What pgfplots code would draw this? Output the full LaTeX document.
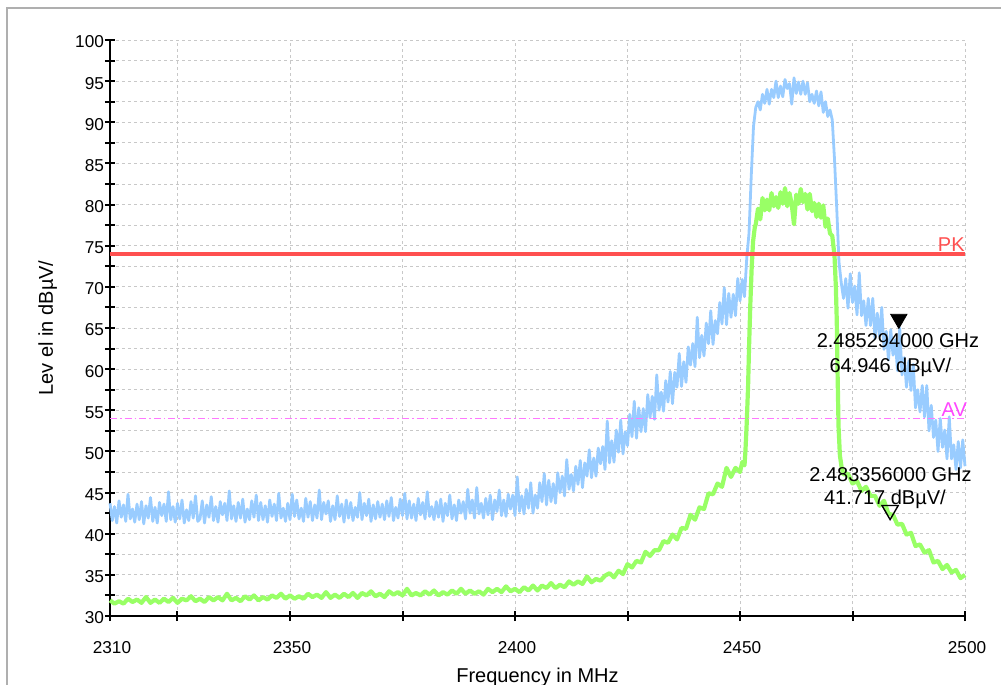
\documentclass[border=0pt]{standalone}
\usepackage{pgfplots}
\pgfplotsset{compat=1.18}
\usepackage{fontspec}
\setmainfont{Liberation Sans}
\definecolor{pkblue}{RGB}{153,204,255}
\definecolor{avgreen}{RGB}{153,255,102}
\definecolor{pkred}{RGB}{255,80,80}
\definecolor{avpink}{RGB}{255,120,255}
\definecolor{avtext}{RGB}{255,70,255}
\definecolor{gridgray}{RGB}{200,200,200}
\definecolor{framegray}{RGB}{175,175,175}
\begin{document}
\begin{tikzpicture}
\path[use as bounding box] (-55pt,-34.5pt) rectangle (445.5pt,308pt);
\draw[framegray, line width=1.2pt] (-51.5pt,-40pt) -- (-51.5pt,304pt) -- (450pt,304pt);
\begin{axis}[
  at={(0pt,0pt)}, anchor=south west,
  scale only axis, width=427.5pt, height=288pt,
  xmin=2310, xmax=2500, ymin=30, ymax=100,
  clip=false,
  axis x line*=bottom, axis y line*=left,
  axis line style={line width=1pt, black},
  xtick={2310,2350,2400,2450,2500},
  xticklabels={2310,2350,2400,2450,2500},
  minor xtick={2325,2375,2425,2475},
  ytick={30,35,...,100},
  minor ytick={32.5,37.5,...,97.5},
  tick align=center,
  major tick length=5pt, minor tick length=5pt,
  tick style={black, line width=1pt},
  grid=both,
  major grid style={gridgray, line width=0.5pt, dash pattern=on 1.5pt off 1.5pt},
  minor grid style={gridgray, line width=0.5pt, dash pattern=on 1.5pt off 1.5pt},
  scaled ticks=false,
  /pgf/number format/assume math mode=true,
  /pgf/number format/1000 sep={},
  tick label style={font=\fontsize{8.6}{10}\selectfont},
  xticklabel style={yshift=-6.5pt, xshift=1pt},
  yticklabel style={xshift=3pt, yshift=-1pt},
  xlabel={Frequency in MHz},
  ylabel={Lev el in dBµV/},
  label style={font=\fontsize{10}{12}\selectfont},
  xlabel style={at={(axis description cs:0.5,-0.1146)}, anchor=base},
  ylabel style={at={(axis description cs:-0.0667,0.5)}, anchor=base},
]
% Peak trace (blue)
\addplot[pkblue, line width=1.4pt, line join=round] coordinates {
(2310,43.7)(2310.5,41.6)(2311,43.3)(2311.5,41.3)(2312,44.0)(2312.5,42.0)(2313,43.5)(2313.5,41.5)(2314,44.8)(2314.5,41.8)
(2315,43.0)(2315.5,41.4)(2316,43.6)(2316.5,41.7)(2317,43.9)(2317.5,41.2)(2318,43.4)(2318.5,41.9)(2319,44.4)(2319.5,41.5)
(2320,43.2)(2320.5,41.3)(2321,43.8)(2321.5,42.2)(2322,43.6)(2322.5,41.5)(2323,45.1)(2323.5,41.7)(2324,43.3)(2324.5,41.4)
(2325,43.7)(2325.5,41.8)(2326,44.1)(2326.5,41.3)(2327,42.9)(2327.5,41.6)(2328,43.9)(2328.5,41.9)(2329,44.6)(2329.5,41.5)
(2330,41.8)(2330.5,44.0)(2331,41.3)(2331.5,43.5)(2332,42.0)(2332.5,44.5)(2333,41.6)(2333.5,43.3)(2334,41.4)(2334.5,43.9)
(2335,42.3)(2335.5,43.7)(2336,41.6)(2336.5,45.2)(2337,41.8)(2337.5,43.4)(2338,41.5)(2338.5,43.8)(2339,41.9)(2339.5,44.2)
(2340,41.4)(2340.5,43.0)(2341,41.7)(2341.5,44.0)(2342,42.0)(2342.5,44.7)(2343,41.6)(2343.5,43.8)(2344,41.7)(2344.5,43.4)
(2345,41.4)(2345.5,44.1)(2346,42.1)(2346.5,43.6)(2347,41.6)(2347.5,44.9)(2348,41.9)(2348.5,43.1)(2349,41.5)(2349.5,43.7)
(2350,41.7)(2350.5,44.8)(2351,42.1)(2351.5,44.1)(2352,41.8)(2352.5,43.1)(2353,41.5)(2353.5,44.3)(2354,42.0)(2354.5,43.9)
(2355,41.6)(2355.5,43.5)(2356,41.9)(2356.5,45.3)(2357,41.7)(2357.5,43.8)(2358,42.4)(2358.5,44.0)(2359,41.5)(2359.5,43.4)
(2360,41.7)(2360.5,44.6)(2361,42.1)(2361.5,43.6)(2362,41.4)(2362.5,44.1)(2363,41.9)(2363.5,43.8)(2364,41.6)(2364.5,43.2)
(2365,42.0)(2365.5,45.0)(2366,41.7)(2366.5,43.7)(2367,42.2)(2367.5,44.2)(2368,41.5)(2368.5,43.5)(2369,41.8)(2369.5,43.9)
(2370,42.0)(2370.5,43.6)(2371,41.7)(2371.5,44.0)(2372,42.1)(2372.5,44.4)(2373,41.6)(2373.5,43.2)(2374,41.9)(2374.5,44.2)
(2375,42.2)(2375.5,44.9)(2376,41.8)(2376.5,44.0)(2377,41.9)(2377.5,43.6)(2378,41.6)(2378.5,44.3)(2379,42.3)(2379.5,43.8)
(2380,41.8)(2380.5,45.1)(2381,42.1)(2381.5,43.3)(2382,41.7)(2382.5,43.9)(2383,42.0)(2383.5,44.2)(2384,41.5)(2384.5,43.7)
(2385,42.2)(2385.5,44.7)(2386,41.8)(2386.5,43.5)(2387,41.6)(2387.5,44.1)(2388,42.5)(2388.5,43.9)(2389,41.8)(2389.5,45.4)
(2390,42.5)(2390.5,44.1)(2391,41.9)(2391.5,45.6)(2392,42.4)(2392.5,43.7)(2393,41.9)(2393.5,44.3)(2394,42.3)(2394.5,44.7)
(2395,41.7)(2395.5,44.1)(2396,42.7)(2396.5,45.3)(2397,42.2)(2397.5,44.1)(2398,42.1)(2398.5,44.8)(2399,43.0)(2399.5,44.7)
(2400,42.2)(2400.5,46.9)(2401,42.7)(2401.5,44.6)(2402,42.4)(2402.5,45.4)(2403,43.1)(2403.5,46.2)(2404,42.5)(2404.5,44.7)
(2405,43.1)(2405.5,46.2)(2406,43.9)(2406.5,47.3)(2407,43.5)(2407.5,46.5)(2408,43.9)(2408.5,46.1)(2409,43.7)(2409.5,47.4)
(2410,45.0)(2410.5,47.0)(2411,44.6)(2411.5,49.0)(2412,45.4)(2412.5,47.2)(2413,45.2)(2413.5,48.2)(2414,46.0)(2414.5,48.9)
(2415,45.6)(2415.5,48.6)(2416,47.0)(2416.5,50.2)(2417,46.8)(2417.5,49.2)(2418,47.0)(2418.5,50.4)(2419,48.5)(2419.5,50.6)
(2420,47.8)(2420.5,53.7)(2421,48.6)(2421.5,51.3)(2422,48.7)(2422.5,52.6)(2423,49.9)(2423.5,53.8)(2424,49.7)(2424.5,52.4)
(2425,50.7)(2425.5,54.5)(2426,51.8)(2426.5,56.1)(2427,51.6)(2427.5,55.3)(2428,52.4)(2428.5,55.2)(2429,52.4)(2429.5,56.9)
(2430,54.1)(2430.5,56.7)(2431,53.9)(2431.5,59.3)(2432,55.0)(2432.5,57.2)(2433,54.9)(2433.5,58.6)(2434,56.0)(2434.5,59.7)
(2435,55.8)(2435.5,59.6)(2436,57.8)(2436.5,61.9)(2437,57.9)(2437.5,60.9)(2438,58.4)(2438.5,62.7)(2439,60.5)(2439.5,63.1)
(2440,60.3)(2440.5,66.3)(2441,61.4)(2441.5,64.1)(2442,61.6)(2442.5,65.6)(2443,63.1)(2443.5,67.1)(2444,63.0)(2444.5,65.9)
(2445,64.3)(2445.5,68.1)(2446,65.5)(2446.5,69.9)(2447,65.4)(2447.5,69.2)(2448,66.3)(2448.5,69.1)(2449,66.5)(2449.5,71.0)
(2450,68.3)(2450.5,70.9)(2451,68.8)(2451.5,73.5)(2452,76.5)(2452.5,83.5)(2453,89.5)(2453.5,91.8)(2454,92.5)(2454.5,91.5)
(2455,93.4)(2455.5,92.3)(2456,94.0)(2456.5,92.2)(2457,94.0)(2457.5,93.0)(2458,95.0)(2458.5,93.0)(2459,94.4)(2459.5,93.1)
(2460,95.2)(2460.5,94.1)(2461,94.7)(2461.5,92.2)(2462,95.4)(2462.5,93.5)(2463,94.9)(2463.5,93.4)(2464,95.0)(2464.5,93.4)
(2465,94.8)(2465.5,92.5)(2466,93.4)(2466.5,92.3)(2467,93.8)(2467.5,92.0)(2468,93.7)(2468.5,91.2)(2469,92.5)(2469.5,90.7)
(2470,91.5)(2470.5,90.3)(2471,85.5)(2471.5,79.5)(2472,73.0)(2472.5,70.5)(2473,68.6)(2473.5,71.0)(2474,67.4)(2474.5,71.6)
(2475,68.1)(2475.5,70.1)(2476,66.6)(2476.5,71.7)(2477,66.5)(2477.5,68.3)(2478,65.3)(2478.5,68.6)(2479,65.3)(2479.5,68.6)
(2480,63.7)(2480.5,66.8)(2481,64.0)(2481.5,67.5)(2482,62.4)(2482.5,64.6)(2483,61.1)(2483.5,64.8)(2484,61.7)(2484.5,63.6)
(2485,59.8)(2485.5,65.0)(2486,59.3)(2486.5,61.4)(2487,57.8)(2487.5,61.0)(2488,57.4)(2488.5,60.6)(2489,55.3)(2489.5,57.5)
(2490,54.8)(2490.5,58.0)(2491,54.2)(2491.5,58.0)(2492,52.5)(2492.5,55.6)(2493,51.7)(2493.5,53.8)(2494,50.0)(2494.5,54.0)
(2495,50.5)(2495.5,52.6)(2496,49.1)(2496.5,54.2)(2497,49.1)(2497.5,50.8)(2498,47.8)(2498.5,51.2)(2499,48.0)(2499.5,51.4)
(2500,48.2)
};
% Average trace (green)
\addplot[avgreen, line width=2.1pt, line join=round] coordinates {
(2310,31.9)(2311,31.5)(2312,31.8)(2313,31.5)(2314,32.1)(2315,31.7)(2316,32.0)(2317,31.6)(2318,32.3)(2319,31.6)
(2320,32.0)(2321,31.6)(2322,32.1)(2323,31.7)(2324,32.2)(2325,31.6)(2326,32.1)(2327,31.9)(2328,32.4)(2329,31.8)
(2330,32.1)(2331,31.7)(2332,32.3)(2333,31.9)(2334,32.3)(2335,31.9)(2336,32.7)(2337,31.9)(2338,32.2)(2339,31.8)
(2340,32.4)(2341,32.0)(2342,32.5)(2343,31.9)(2344,32.3)(2345,32.0)(2346,32.5)(2347,32.2)(2348,32.7)(2349,32.1)
(2350,32.5)(2351,32.1)(2352,32.4)(2353,32.1)(2354,32.7)(2355,32.3)(2356,32.6)(2357,32.2)(2358,32.9)(2359,32.2)
(2360,32.6)(2361,32.2)(2362,32.7)(2363,32.3)(2364,32.8)(2365,32.2)(2366,32.8)(2367,32.5)(2368,33.0)(2369,32.4)
(2370,32.7)(2371,32.3)(2372,33.0)(2373,32.6)(2374,32.9)(2375,32.5)(2376,33.3)(2377,32.5)(2378,32.8)(2379,32.5)
(2380,33.0)(2381,32.6)(2382,33.1)(2383,32.5)(2384,32.9)(2385,32.6)(2386,33.1)(2387,32.7)(2388,33.3)(2389,32.7)
(2390,33.1)(2391,32.7)(2392,33.0)(2393,32.6)(2394,33.3)(2395,32.9)(2396,33.3)(2397,32.9)(2398,33.6)(2399,33.0)
(2400,33.3)(2401,32.9)(2402,33.5)(2403,33.1)(2404,33.7)(2405,33.1)(2406,33.7)(2407,33.4)(2408,34.0)(2409,33.4)
(2410,33.8)(2411,33.5)(2412,34.2)(2413,33.8)(2414,34.2)(2415,33.9)(2416,34.8)(2417,34.1)(2418,34.5)(2419,34.3)
(2420,34.9)(2421,35.2)(2422,34.7)(2423,35.5)(2424,35.1)(2425,36.3)(2426,35.9)(2427,36.7)(2428,36.5)(2429,37.8)
(2430,37.3)(2431,38.0)(2432,38.0)(2433,39.1)(2434,38.9)(2435,39.9)(2436,39.3)(2437,40.7)(2438,40.6)(2439,42.3)
(2440,41.7)(2441,43.2)(2442,43.0)(2443,44.9)(2444,44.8)(2445,46.1)(2446,45.7)(2447,48.0)(2448,46.9)(2449,48.0)
(2450,47.5)(2450.5,48.7)(2451,48.3)(2451.2,50.0)(2451.5,53.5)(2451.8,58.0)(2452,62.5)(2452.3,68.0)(2452.6,72.4)(2452.9,75.5)
(2453.3,77.3)(2453.5,77.6)(2454,79.5)(2454.5,78.2)(2455,80.8)(2455.5,79.3)(2456,80.6)(2456.5,79.3)(2457,81.4)(2457.5,79.8)
(2458,80.9)(2458.5,79.6)(2459,81.5)(2459.5,80.1)(2460,82.0)(2460.5,79.8)(2461,81.4)(2461.5,80.0)(2462,77.6)(2462.5,81.2)
(2463,80.1)(2463.5,81.9)(2464,80.3)(2464.5,81.3)(2465,79.4)(2465.5,81.3)(2466,79.2)(2466.5,80.2)(2467,78.5)(2467.5,80.1)
(2468,78.4)(2468.5,79.9)(2469,77.3)(2469.5,78.3)(2470,76.5)(2470.5,76.2)(2471,73.8)(2471.3,70.0)(2471.5,66.0)(2471.7,59.0)
(2471.9,53.0)(2472.2,49.5)(2472.6,48.0)(2473,47.2)(2474,47.3)(2475,46.1)(2476,46.4)(2477,45.2)(2478,45.7)(2479,44.6)
(2480,44.6)(2481,43.4)(2482,44.0)(2483,42.4)(2484,42.3)(2485,41.1)(2486,41.2)(2487,39.9)(2488,40.1)(2489,38.5)
(2490,38.7)(2491,37.7)(2492,38.0)(2493,36.5)(2494,36.7)(2495,35.7)(2496,36.2)(2497,35.3)(2498,35.6)(2499,34.6)
(2500,35.0)
};
% Limit lines
\addplot[pkred, line width=1.8pt] coordinates {(2310,74)(2500,74)};
\addplot[avpink, line width=0.6pt, dash pattern=on 3.5pt off 1.5pt on 0.8pt off 1.5pt] coordinates {(2310,54)(2500,54)};
\node[pkred, anchor=base east, inner sep=0pt, font=\fontsize{10}{12}\selectfont] at (axis cs:2500,74.3) {PK};
\node[avtext, anchor=base east, inner sep=0pt, font=\fontsize{10}{12}\selectfont] at (axis cs:2500.5,54.2) {AV};
% Markers
\addplot[only marks, mark=triangle*, mark size=4.7pt, mark options={fill=black, draw=black, yshift=4.7pt, rotate=180}] coordinates {(2485.294,64.946)};
\addplot[only marks, mark=triangle, mark size=4.7pt, mark options={fill=white, draw=black, line width=0.7pt, yshift=4.7pt, rotate=180}] coordinates {(2483.356,41.717)};
\node[anchor=base, inner sep=0pt, font=\fontsize{10}{12}\selectfont] at (axis cs:2485.1,62.57) {2.485294000 GHz};
\node[anchor=base, inner sep=0pt, font=\fontsize{10}{12}\selectfont] at (axis cs:2483.4,59.65) {64.946 dBµV/};
\node[anchor=base, inner sep=0pt, font=\fontsize{10}{12}\selectfont] at (axis cs:2483.45,46.4) {2.483356000 GHz};
\node[anchor=base, inner sep=0pt, font=\fontsize{10}{12}\selectfont] at (axis cs:2482.2,43.6) {41.717 dBµV/};
\end{axis}
\end{tikzpicture}
\end{document}
